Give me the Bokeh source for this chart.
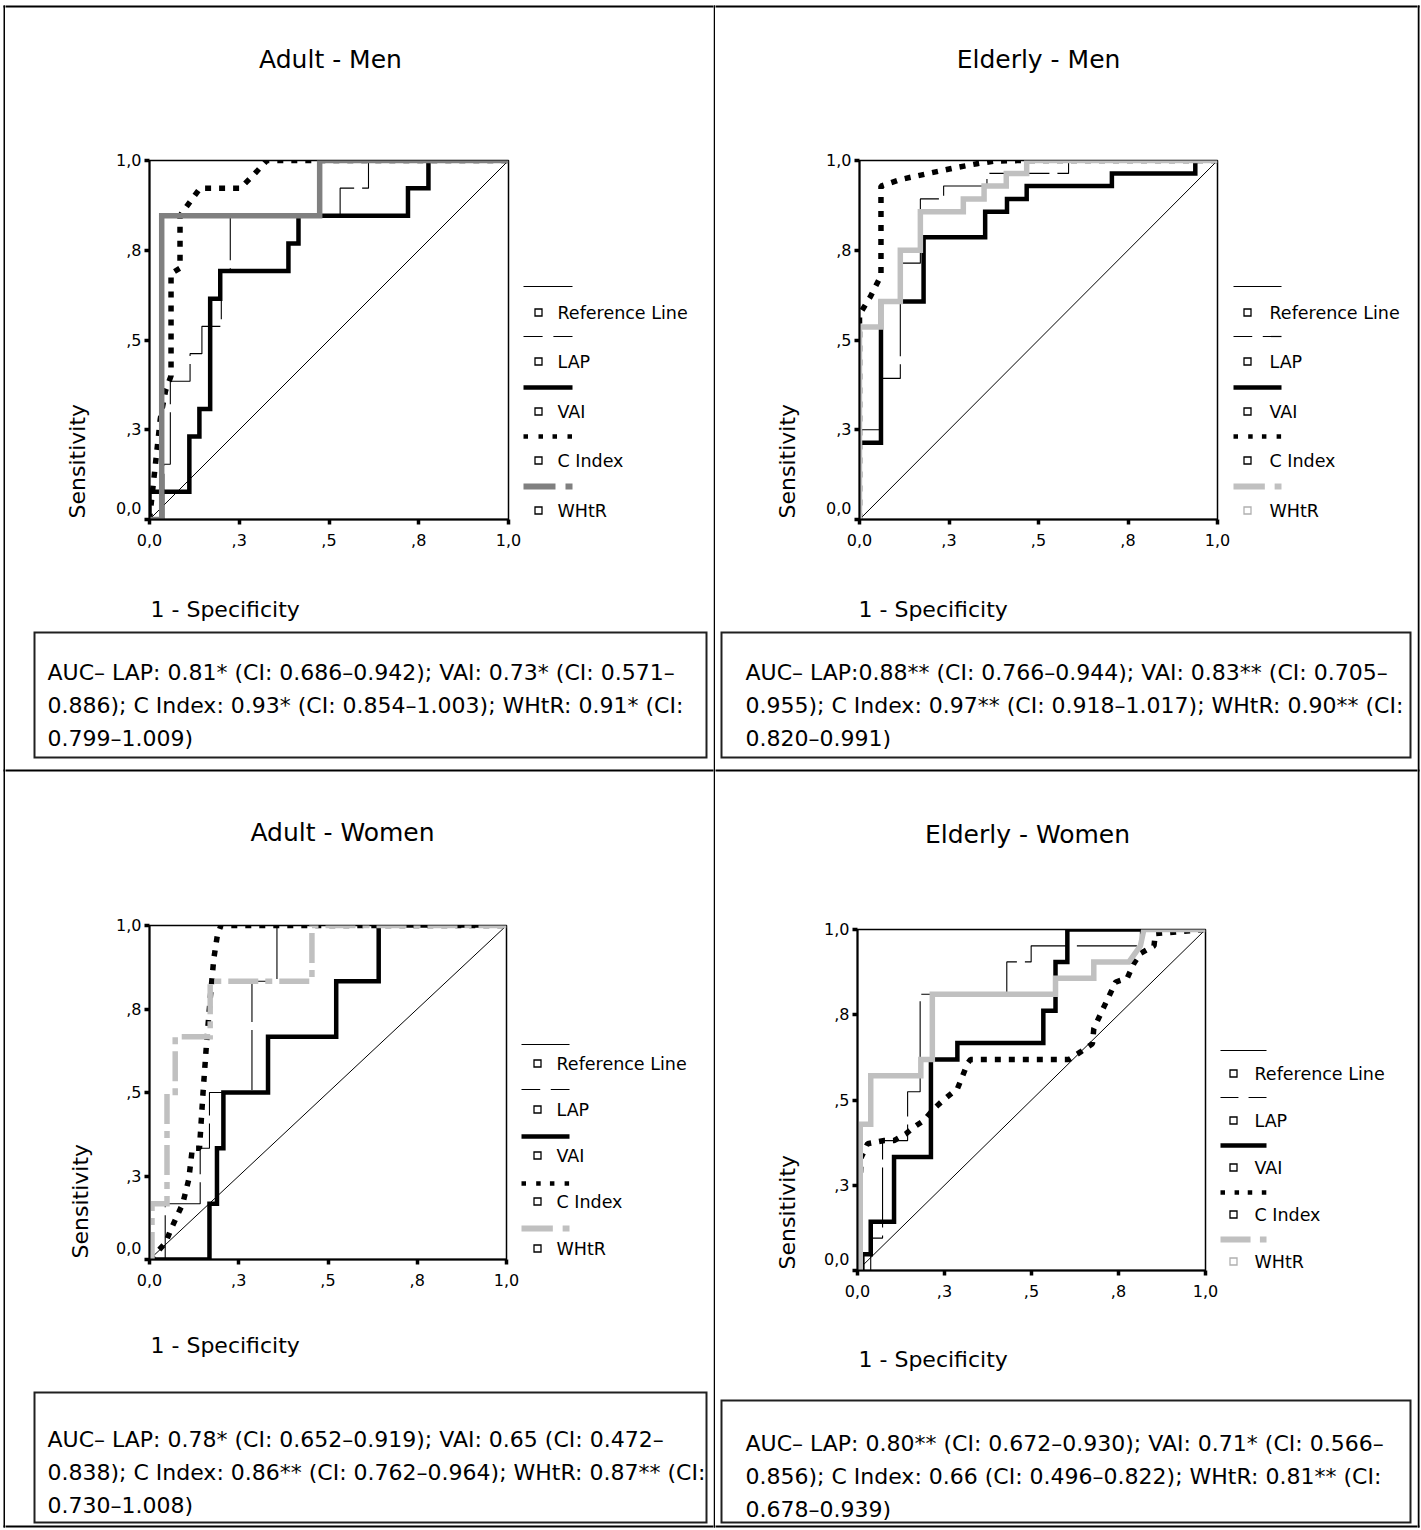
import math
from bokeh.plotting import figure
from bokeh.layouts import row, column
from bokeh.models import Range1d, FixedTicker
from bokeh.core.properties import value
from bokeh.embed import file_html
from bokeh.resources import INLINE

# ---------------------------------------------------------------- data
TICKS = [0.0, 0.25, 0.5, 0.75, 1.0]
TICK_LABELS = ["0,0", ",3", ",5", ",8", "1,0"]
LEGEND_NAMES = ["Reference Line", "LAP", "VAI", "C Index", "WHtR"]
PANEL_TITLES = ["Adult - Men", "Elderly - Men", "Adult - Women", "Elderly - Women"]
X_TITLE = "1 - Specificity"
Y_TITLE = "Sensitivity"

REF_X = [0.0, 1.0]
REF_Y = [0.0, 1.0]

# Adult - Men
AM_LAP_X = [0, 0.04, 0.04, 0.058, 0.058, 0.113, 0.113, 0.146, 0.146, 0.2, 0.2, 0.225, 0.225, 0.531, 0.531, 0.61, 0.61, 1.0]
AM_LAP_Y = [0, 0, 0.154, 0.154, 0.385, 0.385, 0.462, 0.462, 0.538, 0.538, 0.692, 0.692, 0.846, 0.846, 0.923, 0.923, 1.0, 1.0]
AM_VAI_X = [0, 0, 0.111, 0.111, 0.139, 0.139, 0.169, 0.169, 0.197, 0.197, 0.387, 0.387, 0.415, 0.415, 0.72, 0.72, 0.777, 0.777, 1.0]
AM_VAI_Y = [0, 0.077, 0.077, 0.231, 0.231, 0.308, 0.308, 0.615, 0.615, 0.692, 0.692, 0.769, 0.769, 0.846, 0.846, 0.923, 0.923, 1.0, 1.0]
AM_CI_X = [0, 0.03, 0.045, 0.06, 0.06, 0.085, 0.085, 0.113, 0.141, 0.253, 0.29, 0.327, 0.447, 1.0]
AM_CI_Y = [0, 0.28, 0.36, 0.4, 0.685, 0.7, 0.846, 0.885, 0.923, 0.923, 0.96, 1.0, 1.0, 1.0]
AM_WHTR_X = [0, 0.034, 0.034, 0.474, 0.474, 1.0]
AM_WHTR_Y = [0, 0, 0.846, 0.846, 1.0, 1.0]

# Elderly - Men
EM_LAP_X = [0, 0, 0.06, 0.06, 0.114, 0.114, 0.17, 0.17, 0.235, 0.235, 0.356, 0.356, 0.584, 0.584, 1.0]
EM_LAP_Y = [0, 0.25, 0.25, 0.393, 0.393, 0.714, 0.714, 0.893, 0.893, 0.929, 0.929, 0.964, 0.964, 1.0, 1.0]
EM_VAI_X = [0, 0, 0.06, 0.06, 0.179, 0.179, 0.351, 0.351, 0.412, 0.412, 0.467, 0.467, 0.705, 0.705, 0.938, 0.938, 1.0]
EM_VAI_Y = [0, 0.214, 0.214, 0.607, 0.607, 0.786, 0.786, 0.857, 0.857, 0.893, 0.893, 0.929, 0.929, 0.964, 0.964, 1.0, 1.0]
EM_CI_X = [0, 0, 0.03, 0.06, 0.06, 0.114, 0.188, 0.263, 0.328, 0.374, 0.449, 1.0]
EM_CI_Y = [0, 0.571, 0.62, 0.679, 0.929, 0.947, 0.963, 0.979, 0.991, 0.998, 1.0, 1.0]
EM_WHTR_X = [0, 0, 0.06, 0.06, 0.114, 0.114, 0.17, 0.17, 0.29, 0.29, 0.348, 0.348, 0.41, 0.41, 0.467, 0.467, 1.0]
EM_WHTR_Y = [0, 0.536, 0.536, 0.607, 0.607, 0.75, 0.75, 0.857, 0.857, 0.893, 0.893, 0.929, 0.929, 0.964, 0.964, 1.0, 1.0]

# Adult - Women
AW_LAP_X = [0, 0.044, 0.044, 0.142, 0.142, 0.168, 0.168, 0.287, 0.287, 0.357, 0.357, 1.0]
AW_LAP_Y = [0, 0, 0.167, 0.167, 0.333, 0.333, 0.5, 0.5, 0.833, 0.833, 1.0, 1.0]
AW_VAI_X = [0, 0.168, 0.168, 0.189, 0.189, 0.207, 0.207, 0.332, 0.332, 0.523, 0.523, 0.642, 0.642, 1.0]
AW_VAI_Y = [0, 0, 0.167, 0.167, 0.333, 0.333, 0.5, 0.5, 0.667, 0.667, 0.833, 0.833, 1.0, 1.0]
AW_CI_X = [0, 0.01, 0.045, 0.06, 0.093, 0.11, 0.12, 0.14, 0.15, 0.16, 0.17, 0.18, 0.19, 0.2, 0.44, 1.0]
AW_CI_Y = [0, 0.01, 0.05, 0.09, 0.167, 0.24, 0.333, 0.333, 0.5, 0.65, 0.78, 0.9, 0.97, 1.0, 1.0, 1.0]
AW_WHTR_X = [0, 0.007, 0.007, 0.049, 0.049, 0.072, 0.072, 0.17, 0.17, 0.455, 0.455, 1.0]
AW_WHTR_Y = [0, 0, 0.167, 0.167, 0.5, 0.5, 0.667, 0.667, 0.833, 0.833, 1.0, 1.0]

# Elderly - Women
EW_LAP_X = [0, 0.038, 0.038, 0.072, 0.072, 0.144, 0.144, 0.18, 0.18, 0.429, 0.429, 0.499, 0.499, 0.813, 0.813, 1.0]
EW_LAP_Y = [0, 0, 0.095, 0.095, 0.381, 0.381, 0.524, 0.524, 0.81, 0.81, 0.905, 0.905, 0.952, 0.952, 1.0, 1.0]
EW_VAI_X = [0, 0.014, 0.014, 0.038, 0.038, 0.105, 0.105, 0.211, 0.211, 0.287, 0.287, 0.534, 0.534, 0.569, 0.569, 0.603, 0.603, 1.0]
EW_VAI_Y = [0, 0, 0.048, 0.048, 0.143, 0.143, 0.333, 0.333, 0.619, 0.619, 0.667, 0.667, 0.762, 0.762, 0.905, 0.905, 1.0, 1.0]
EW_CI_X = [0, 0.01, 0.029, 0.077, 0.105, 0.139, 0.163, 0.191, 0.22, 0.247, 0.287, 0.301, 0.316, 0.325, 0.608, 0.641, 0.675, 0.679, 0.708, 0.742, 0.775, 0.794, 0.813, 0.852, 0.856, 1.0]
EW_CI_Y = [0, 0.33, 0.372, 0.381, 0.381, 0.401, 0.421, 0.44, 0.475, 0.5, 0.533, 0.568, 0.607, 0.619, 0.619, 0.641, 0.665, 0.709, 0.773, 0.846, 0.857, 0.9, 0.93, 0.952, 0.988, 1.0]
EW_WHTR_X = [0, 0.008, 0.008, 0.038, 0.038, 0.182, 0.182, 0.215, 0.215, 0.569, 0.569, 0.679, 0.679, 0.78, 0.813, 0.823, 1.0]
EW_WHTR_Y = [0, 0, 0.429, 0.429, 0.571, 0.571, 0.619, 0.619, 0.81, 0.81, 0.857, 0.857, 0.905, 0.905, 0.952, 1.0, 1.0]

AUC_AM = ["AUC\u2013 LAP: 0.81* (CI: 0.686\u20130.942); VAI: 0.73* (CI: 0.571\u2013",
          "0.886); C Index: 0.93* (CI: 0.854\u20131.003); WHtR: 0.91* (CI:",
          "0.799\u20131.009)"]
AUC_EM = ["AUC\u2013 LAP:0.88** (CI: 0.766\u20130.944); VAI: 0.83** (CI: 0.705\u2013",
          "0.955); C Index: 0.97** (CI: 0.918\u20131.017); WHtR: 0.90** (CI:",
          "0.820\u20130.991)"]
AUC_AW = ["AUC\u2013 LAP: 0.78* (CI: 0.652\u20130.919); VAI: 0.65 (CI: 0.472\u2013",
          "0.838); C Index: 0.86** (CI: 0.762\u20130.964); WHtR: 0.87** (CI:",
          "0.730\u20131.008)"]
AUC_EW = ["AUC\u2013 LAP: 0.80** (CI: 0.672\u20130.930); VAI: 0.71* (CI: 0.566\u2013",
          "0.856); C Index: 0.66 (CI: 0.496\u20130.822); WHtR: 0.81** (CI:",
          "0.678\u20130.939)"]

# ---------------------------------------------------------------- layout / style (page pixels)
FONT = "DejaVu Sans"
PAGE_W = 1420
PAGE_H = 1529

PANELS = [
    dict(title=PANEL_TITLES[0], auc=AUC_AM,
         lap=(AM_LAP_X, AM_LAP_Y), vai=(AM_VAI_X, AM_VAI_Y), ci=(AM_CI_X, AM_CI_Y), whtr=(AM_WHTR_X, AM_WHTR_Y),
         fig=(94, 148, 522, 559), frame=(149, 160, 508, 519), title_xy=(330, 59),
         sens=(77, 518), spec=(150, 609),
         leg_x=(523, 572), leg_sy=[286, 336, 387, 436, 486], leg_ly=[312, 361, 411, 460, 510],
         leg_sq=538, leg_tx=557,
         auc_box=(34, 632, 706, 757), auc_tx=47, auc_by=[672, 705, 738],
         whtr_color="#808080", whtr_dash="solid", whtr_sq="black"),
    dict(title=PANEL_TITLES[1], auc=AUC_EM,
         lap=(EM_LAP_X, EM_LAP_Y), vai=(EM_VAI_X, EM_VAI_Y), ci=(EM_CI_X, EM_CI_Y), whtr=(EM_WHTR_X, EM_WHTR_Y),
         fig=(804, 148, 1231, 559), frame=(859, 160, 1217, 519), title_xy=(1038, 59),
         sens=(787, 518), spec=(858, 609),
         leg_x=(1233, 1281), leg_sy=[286, 336, 387, 436, 486], leg_ly=[312, 361, 411, 460, 510],
         leg_sq=1247, leg_tx=1269,
         auc_box=(721, 632, 1410, 757), auc_tx=745, auc_by=[672, 705, 738],
         whtr_color="#c0c0c0", whtr_dash="solid", whtr_sq="#b0b0b0"),
    dict(title=PANEL_TITLES[2], auc=AUC_AW,
         lap=(AW_LAP_X, AW_LAP_Y), vai=(AW_VAI_X, AW_VAI_Y), ci=(AW_CI_X, AW_CI_Y), whtr=(AW_WHTR_X, AW_WHTR_Y),
         fig=(94, 913, 520, 1310), frame=(149, 925, 506, 1259), title_xy=(342, 832),
         sens=(80, 1258), spec=(150, 1345),
         leg_x=(521, 569), leg_sy=[1044, 1089, 1136, 1183, 1228], leg_ly=[1063, 1109, 1155, 1201, 1248],
         leg_sq=537, leg_tx=556,
         auc_box=(34, 1392, 706, 1522), auc_tx=47, auc_by=[1439, 1472, 1505],
         whtr_color="#c0c0c0", whtr_dash="30 7 7 7", whtr_sq="black"),
    dict(title=PANEL_TITLES[3], auc=AUC_EW,
         lap=(EW_LAP_X, EW_LAP_Y), vai=(EW_VAI_X, EW_VAI_Y), ci=(EW_CI_X, EW_CI_Y), whtr=(EW_WHTR_X, EW_WHTR_Y),
         fig=(802, 913, 1219, 1310), frame=(857, 929, 1205, 1270), title_xy=(1027, 834),
         sens=(787, 1269), spec=(858, 1359),
         leg_x=(1220, 1266), leg_sy=[1050, 1097, 1145, 1192, 1239], leg_ly=[1073, 1120, 1167, 1214, 1261],
         leg_sq=1233, leg_tx=1254,
         auc_box=(721, 1400, 1410, 1522), auc_tx=745, auc_by=[1443, 1476, 1509],
         whtr_color="#c0c0c0", whtr_dash="solid", whtr_sq="#b0b0b0"),
]

# decoration items in page pixels: rects (l, t, r, b, fill, line, lw), texts (x, y, s, size, align, baseline, angle)
RECTS = [
    (3, 5, 1419, 7, "black", None, 1), (3, 1525, 1419, 1527, "black", None, 1),
    (3, 5, 5, 1527, "black", None, 1), (1417, 5, 1419, 1527, "black", None, 1),
    (713, 5, 715, 1527, "black", None, 1), (3, 769, 1419, 771, "black", None, 1),
]
TEXTS = []

for sp in PANELS:
    TEXTS.append((sp["title_xy"][0], sp["title_xy"][1], sp["title"], "25px", "center", "alphabetic", 0.0))
    TEXTS.append((sp["sens"][0], sp["sens"][1], Y_TITLE, "22px", "left", "middle", math.pi / 2))
    TEXTS.append((sp["spec"][0], sp["spec"][1], X_TITLE, "22px", "left", "alphabetic", 0.0))
    x0, x1 = sp["leg_x"]
    L = x1 - x0
    sy = sp["leg_sy"]
    RECTS.append((x0, sy[0] - 0.6, x1, sy[0] + 0.6, "black", None, 1))
    RECTS.append((x0, sy[1] - 0.6, x0 + 0.39 * L, sy[1] + 0.6, "black", None, 1))
    RECTS.append((x0 + 0.61 * L, sy[1] - 0.6, x1, sy[1] + 0.6, "black", None, 1))
    RECTS.append((x0, sy[2] - 2.25, x1, sy[2] + 2.25, "black", None, 1))
    for f in (0.0, 0.306, 0.592, 0.898):
        RECTS.append((x0 + f * L, sy[3] - 2.25, x0 + f * L + 4.5, sy[3] + 2.25, "black", None, 1))
    RECTS.append((x0, sy[4] - 3, x0 + 0.653 * L, sy[4] + 3, sp["whtr_color"], None, 1))
    RECTS.append((x0 + 0.857 * L, sy[4] - 3, x1, sy[4] + 3, sp["whtr_color"], None, 1))
    for i, name in enumerate(LEGEND_NAMES):
        ly = sp["leg_ly"][i]
        sqc = sp["whtr_sq"] if i == 4 else "black"
        RECTS.append((sp["leg_sq"] - 3.5, ly - 3.5, sp["leg_sq"] + 3.5, ly + 3.5, None, sqc, 1.3))
        TEXTS.append((sp["leg_tx"], ly, name, "17.5px", "left", "middle", 0.0))
    l, t, r, b = sp["auc_box"]
    RECTS.append((l, t, r, b, None, "#202020", 2))
    for s, by in zip(sp["auc"], sp["auc_by"]):
        TEXTS.append((sp["auc_tx"], by, s, "22px", "left", "alphabetic", 0.0))


def decor(x0, y0, x1, y1, bt=0, bb=0):
    """Plain drawing surface for page box (x0, y0)-(x1, y1); bt/bb = empty top/bottom borders."""
    fy0, fy1 = y0 + bt, y1 - bb
    p = figure(width=x1 - x0, height=y1 - y0,
               x_range=Range1d(x0, x1), y_range=Range1d(-fy1, -fy0),
               toolbar_location=None, output_backend="svg",
               min_border_left=0, min_border_right=0, min_border_top=bt, min_border_bottom=bb,
               x_axis_location=None, y_axis_location=None, title=None)
    p.grid.visible = False
    p.outline_line_color = None
    p.background_fill_color = "white"
    p.border_fill_color = "white"
    for (l, t, r, b, fill, line, lw) in RECTS:
        if r > x0 and l < x1 and b > fy0 and t < fy1:
            p.quad(left=l, right=r, top=-t, bottom=-b, fill_color=fill, fill_alpha=1.0,
                   line_color=line, line_width=lw, line_join="miter")
    for (x, y, s, size, align, base, angle) in TEXTS:
        if x0 <= x < x1 and fy0 <= y <= fy1:
            p.text(x=[x], y=[-y], text=[s], text_font=value(FONT), text_font_size=value(size),
                   text_align=align, text_baseline=base, angle=angle, text_color="black")
    return p


def roc(sp):
    fx0, fy0, fx1, fy1 = sp["fig"]
    fl, ft, fr, fb = sp["frame"]
    p = figure(width=fx1 - fx0, height=fy1 - fy0,
               x_range=Range1d(0, 1), y_range=Range1d(0, 1),
               toolbar_location=None, output_backend="svg", title=None,
               min_border_left=fl - fx0, min_border_right=fx1 - fr,
               min_border_top=ft - fy0, min_border_bottom=fy1 - fb)
    p.grid.visible = False
    p.outline_line_color = "black"
    p.outline_line_width = 1.5
    p.background_fill_color = "white"
    p.border_fill_color = "white"
    for ax in (p.xaxis[0], p.yaxis[0]):
        ax.ticker = FixedTicker(ticks=TICKS)
        ax.axis_line_width = 2
        ax.axis_line_color = "black"
        ax.major_tick_line_width = 3.5
        ax.major_tick_line_color = "black"
        ax.major_tick_out = 5
        ax.major_tick_in = 0
        ax.minor_tick_line_color = None
        ax.major_label_text_font = FONT
        ax.major_label_text_font_size = "16px"
        ax.major_label_text_color = "black"
    p.xaxis[0].major_label_overrides = {t: s for t, s in zip(TICKS, TICK_LABELS)}
    ylab = {t: s for t, s in zip(TICKS, TICK_LABELS)}
    ylab[TICKS[0]] = TICK_LABELS[0] + "\n "
    p.yaxis[0].major_label_overrides = ylab
    p.xaxis[0].major_label_standoff = 9
    p.yaxis[0].major_label_standoff = 3

    p.line(REF_X, REF_Y, line_color="black", line_width=1)
    p.line(sp["lap"][0], sp["lap"][1], line_color="black", line_width=1.1, line_dash="60 8")
    p.line(sp["vai"][0], sp["vai"][1], line_color="black", line_width=4.5, line_join="miter")
    p.line(sp["ci"][0], sp["ci"][1], line_color="black", line_width=5.5, line_dash="6 8")
    p.line(sp["whtr"][0], sp["whtr"][1], line_color=sp["whtr_color"], line_width=5.5,
           line_dash=sp["whtr_dash"], line_join="miter")
    return p


def plot_row(sp, x_left, x_right):
    fx0, fy0, fx1, fy1 = sp["fig"]
    fl, ft, fr, fb = sp["frame"]
    bt, bb = ft - fy0, fy1 - fb
    return row(decor(x_left, fy0, fx0, fy1, bt, bb), roc(sp), decor(fx1, fy0, x_right, fy1, bt, bb))


def cell_column(top, bottom, x0, x1):
    return column(
        decor(x0, 0, x1, top["fig"][1]),
        plot_row(top, x0, x1),
        decor(x0, top["fig"][3], x1, bottom["fig"][1]),
        plot_row(bottom, x0, x1),
        decor(x0, bottom["fig"][3], x1, PAGE_H),
    )


TL, TR, BL, BR = PANELS
layout = row(
    decor(0, 0, 5, PAGE_H),
    cell_column(TL, BL, 5, 713),
    decor(713, 0, 715, PAGE_H),
    cell_column(TR, BR, 715, 1417),
    decor(1417, 0, PAGE_W, PAGE_H),
)
open("out.html", "w").write(file_html(layout, INLINE, "ROC curves"))
